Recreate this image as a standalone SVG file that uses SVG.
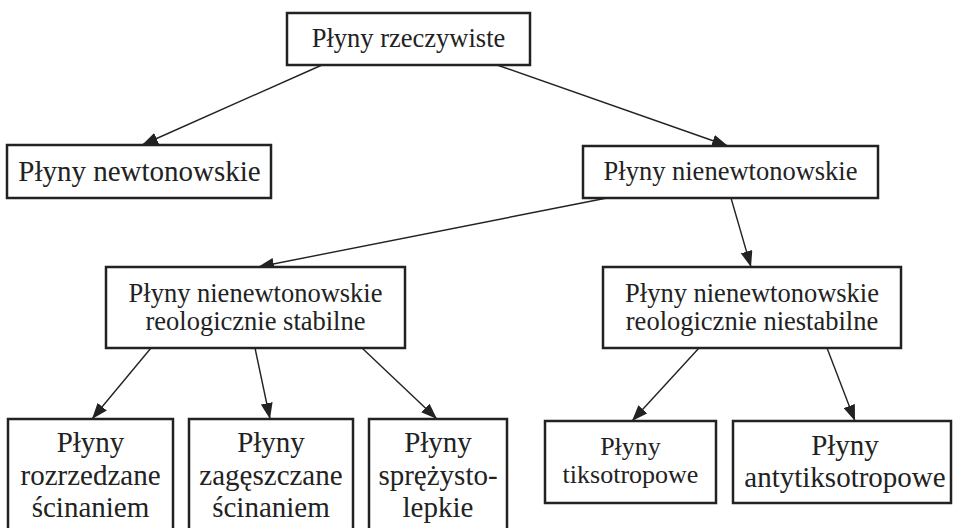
<svg xmlns="http://www.w3.org/2000/svg" width="953" height="528" viewBox="0 0 953 528">
<style>
.box{fill:#fff;stroke:#222;stroke-width:2.5}
text{font-family:"Liberation Serif","Times New Roman",serif;fill:#222;text-anchor:middle}
.c{stroke:#222;stroke-width:1.4;fill:none;marker-end:url(#ah)}
</style>
<defs>
<marker id="ah" markerUnits="userSpaceOnUse" markerWidth="18" markerHeight="12" refX="16" refY="6" orient="auto">
<path d="M0,0 L16,6 L0,12 Z" fill="#222"/>
</marker>
</defs>
<g id="connectors">
<line class="c" x1="322" y1="65" x2="142" y2="145"/>
<line class="c" x1="497" y1="65" x2="728" y2="146"/>
<line class="c" x1="607" y1="198" x2="258" y2="267"/>
<line class="c" x1="731" y1="198" x2="751" y2="267"/>
<line class="c" x1="151" y1="348" x2="92" y2="419"/>
<line class="c" x1="255" y1="348" x2="270" y2="419"/>
<line class="c" x1="362" y1="348" x2="437" y2="419"/>
<line class="c" x1="699" y1="348" x2="632" y2="421"/>
<line class="c" x1="827" y1="348" x2="855" y2="421"/>
</g>
<g id="n1"><rect class="box" x="287" y="13" width="243" height="52"/><text x="408.5" y="47" font-size="26.5">Płyny rzeczywiste</text></g>
<g id="n2"><rect class="box" x="7" y="145" width="264" height="53"/><text x="139.5" y="181" font-size="29">Płyny newtonowskie</text></g>
<g id="n3"><rect class="box" x="583" y="146" width="295" height="52"/><text x="730.5" y="180" font-size="26.5">Płyny nienewtonowskie</text></g>
<g id="n4"><rect class="box" x="106" y="267" width="299" height="81"/><text x="255.5" y="302" font-size="26.5">Płyny nienewtonowskie</text><text x="255.5" y="330" font-size="26.5">reologicznie stabilne</text></g>
<g id="n5"><rect class="box" x="603" y="267" width="298" height="81"/><text x="752" y="302" font-size="26.5">Płyny nienewtonowskie</text><text x="752" y="330" font-size="26.5">reologicznie niestabilne</text></g>
<g id="n6"><rect class="box" x="8" y="419" width="165" height="120"/><text x="90.5" y="452" font-size="29">Płyny</text><text x="90.5" y="485" font-size="29">rozrzedzane</text><text x="90.5" y="517" font-size="29">ścinaniem</text></g>
<g id="n7"><rect class="box" x="189" y="419" width="164" height="120"/><text x="271" y="452" font-size="29">Płyny</text><text x="271" y="485" font-size="29">zagęszczane</text><text x="271" y="517" font-size="29">ścinaniem</text></g>
<g id="n8"><rect class="box" x="369" y="419" width="138" height="120"/><text x="438" y="452" font-size="29">Płyny</text><text x="438" y="485" font-size="29">sprężysto-</text><text x="438" y="517" font-size="29">lepkie</text></g>
<g id="n9"><rect class="box" x="545" y="421" width="171" height="82"/><text x="630.5" y="455" font-size="26">Płyny</text><text x="630.5" y="483" font-size="26">tiksotropowe</text></g>
<g id="n10"><rect class="box" x="733" y="421" width="218" height="82"/><text x="845" y="455" font-size="29">Płyny</text><text x="845" y="487" font-size="29">antytiksotropowe</text></g>
</svg>
